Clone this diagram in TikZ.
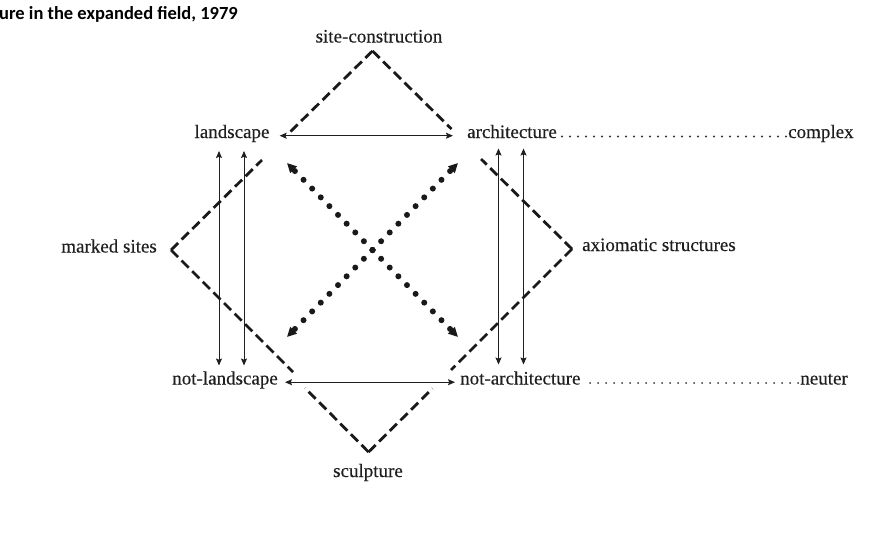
\documentclass[tikz,border=0pt]{standalone}
\usepackage{fontspec}
\setmainfont{Liberation Serif}[FakeBold=0.3]
\newfontfamily\titlefont{Carlito}
\usetikzlibrary{arrows.meta,calc}
\begin{document}
\begin{tikzpicture}[x=1pt,y=-1pt,
  lbl/.style={font=\fontsize{19}{22}\selectfont, inner sep=0pt, text=black!88},
  ttl/.style={font=\titlefont\bfseries\fontsize{18.5}{22}\selectfont, inner sep=0pt, text=black},
  arr/.style={line width=1pt, draw=black!88,
    {Stealth[length=7pt,width=6pt,inset=1.2pt]}-{Stealth[length=7pt,width=6pt,inset=1.2pt]}},
  dashV/.style={line width=2.8pt, draw=black!90, dash pattern=on 10pt off 5pt},
  dotHalf/.style={line width=6pt, draw=black!90, line cap=round, dash pattern=on 0pt off 12.3pt,
    -{Triangle[length=9.5pt,width=9pt]}},
  leader/.style={line width=2.2pt, draw=black!80, line cap=round, dash pattern=on 0pt off 8pt}]
\useasboundingbox (0,0) rectangle (879,536);
\fill[white] (0,0) rectangle (879,536);

% title
\node[ttl, anchor=base west] (title) at (-1,19.5) {ure in the expanded field, 1979};

% labels
\node[lbl, anchor=base] (sc) at (379,42.5) {site-construction};
\node[lbl, anchor=base] (land) at (232,138) {landscape};
\node[lbl, anchor=base] (arch) at (512,138) {architecture};
\node[lbl, anchor=base west] (cplx) at (788,138) {complex};
\node[lbl, anchor=base east] (marked) at (157,252.5) {marked sites};
\node[lbl, anchor=base west] (axiom) at (582,251) {axiomatic structures};
\node[lbl, anchor=base east] (notland) at (278,384.5) {not-landscape};
\node[lbl, anchor=base west] (notarch) at (460,384.5) {not-architecture};
\node[lbl, anchor=base east] (neuter) at (848,384.5) {neuter};
\node[lbl, anchor=base] (sculpt) at (368,477) {sculpture};

% horizontal double arrows
\draw[arr] ([xshift=10pt]land.mid east) -- ([xshift=-14pt]arch.mid west);
\draw[arr] ([xshift=7pt]notland.mid east) -- ([xshift=-5pt]notarch.mid west);

% vertical double arrows
\coordinate (la) at ($(land.base)+(-13,13)$);
\coordinate (lb) at ($(land.base)+(12,13)$);
\coordinate (ly) at ($(notland.base)+(0,-19)$);
\draw[arr] (la) -- (la |- ly);
\draw[arr] (lb) -- (lb |- ly);
\coordinate (ra) at ($(arch.base)+(-13.5,10.5)$);
\coordinate (rb) at ($(arch.base)+(11.5,10.5)$);
\coordinate (ry) at ($(notarch.base)+(0,-20)$);
\draw[arr] (ra) -- (ra |- ry);
\draw[arr] (rb) -- (rb |- ry);

% leader dots (drawn from the right-hand word so a dot sits next to it)
\draw[leader] ($(cplx.base west)+(-2,-1.5)$) -- ($(arch.base east)+(4,-1.5)$);
\draw[leader] ($(neuter.base west)+(-2,-1.5)$) -- ($(notarch.base east)+(8,-1.5)$);

% dotted X
\coordinate (xc) at (372.5,250);
\coordinate (xtl) at (287,163);
\coordinate (xtr) at (458,163);
\coordinate (xbl) at (287,337);
\coordinate (xbr) at (458,337);
\draw[dotHalf] (xc) -- (xtl);
\draw[dotHalf] (xc) -- (xtr);
\draw[dotHalf] (xc) -- (xbl);
\draw[dotHalf] (xc) -- (xbr);

% dashed V's
\coordinate (vt) at (372.5,51);
\coordinate (vt1) at (290.5,131.5);
\coordinate (vt2) at (451.5,129);
\coordinate (vl) at (171,250);
\coordinate (vl1) at (262,160);
\coordinate (vl2) at (293,372);
\coordinate (vb) at (368.5,452);
\coordinate (vb1) at (305.1,388.1);
\coordinate (vb2) at (432.5,388.5);
\coordinate (vr) at (572,249);
\coordinate (vr1) at (481,159);
\coordinate (vr2) at (451.1,369.9);
\foreach \a/\e in {vt/vt1,vt/vt2,vl/vl1,vl/vl2,vb/vb1,vb/vb2,vr/vr1,vr/vr2}
  \draw[dashV] (\a) -- (\e);
\end{tikzpicture}
\end{document}
